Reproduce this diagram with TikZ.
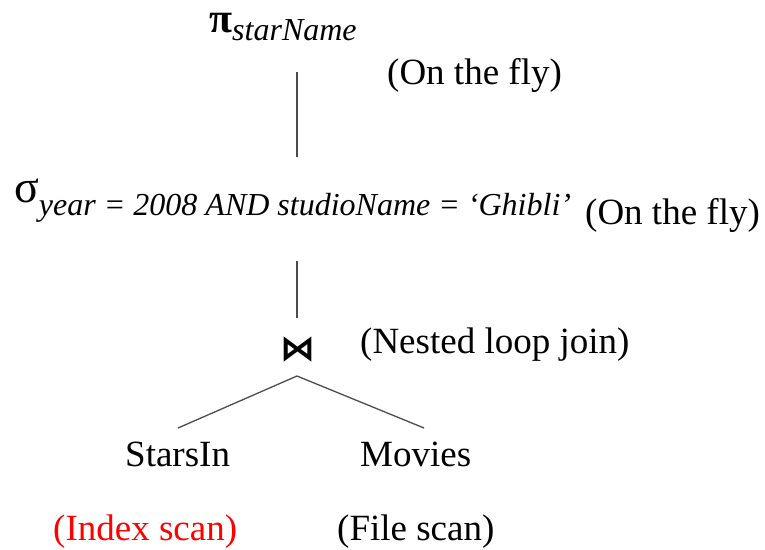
\documentclass[tikz,border=0pt]{standalone}
\usepackage{fontspec}
\setmainfont{Liberation Serif}
\newfontfamily\symfont{DejaVu Sans}
\begin{document}
\begin{tikzpicture}[x=1pt,y=-1pt,
  lbl/.style={inner sep=0pt,anchor=base west,font=\fontsize{37}{40}\selectfont},
  opname/.style={inner sep=0pt,anchor=base west},
  edge/.style={line width=1.3pt,draw=black!70}]
\useasboundingbox (0,0) rectangle (765,549);
\newcommand{\subtext}[2]{\raisebox{-#1pt}{\fontsize{32}{34}\selectfont\itshape #2}}

% projection
\node[opname] (pi) at (209,32) {{\fontsize{42}{44}\selectfont\bfseries π}\subtext{8}{starName}};
\node[lbl] (pinote) at (387,84) {(On the fly)};
\coordinate (pibot) at (297,72);

% selection
\node[opname] (sigma) at (14,202) {{\fontsize{46}{48}\selectfont σ}\subtext{13}{year = 2008 AND studioName = ‘Ghibli’}};
\node[lbl] (signote) at (585,224) {(On the fly)};
\coordinate (sigtop) at (297,157);
\coordinate (sigbot) at (297,261);

% join
\node[inner sep=0pt,font=\symfont\bfseries\fontsize{35}{37}\selectfont] (join) at (298,350) {⋈};
\node[lbl] (joinnote) at (360,353) {(Nested loop join)};
\coordinate (jointop) at (297,318);
\coordinate (joinbot) at (297,376);

% leaves
\node[lbl] (stars) at (125,466) {StarsIn};
\node[lbl] (movies) at (360,466) {Movies};
\coordinate (starstop) at (178,428);
\coordinate (moviestop) at (424,428);
\node[lbl,text=red] (starsnote) at (53,540) {(Index scan)};
\node[lbl] (moviesnote) at (337,540) {(File scan)};

\draw[edge] (pibot) -- (sigtop);
\draw[edge] (sigbot) -- (jointop);
\draw[edge] (joinbot) -- (starstop);
\draw[edge] (joinbot) -- (moviestop);
\end{tikzpicture}
\end{document}
